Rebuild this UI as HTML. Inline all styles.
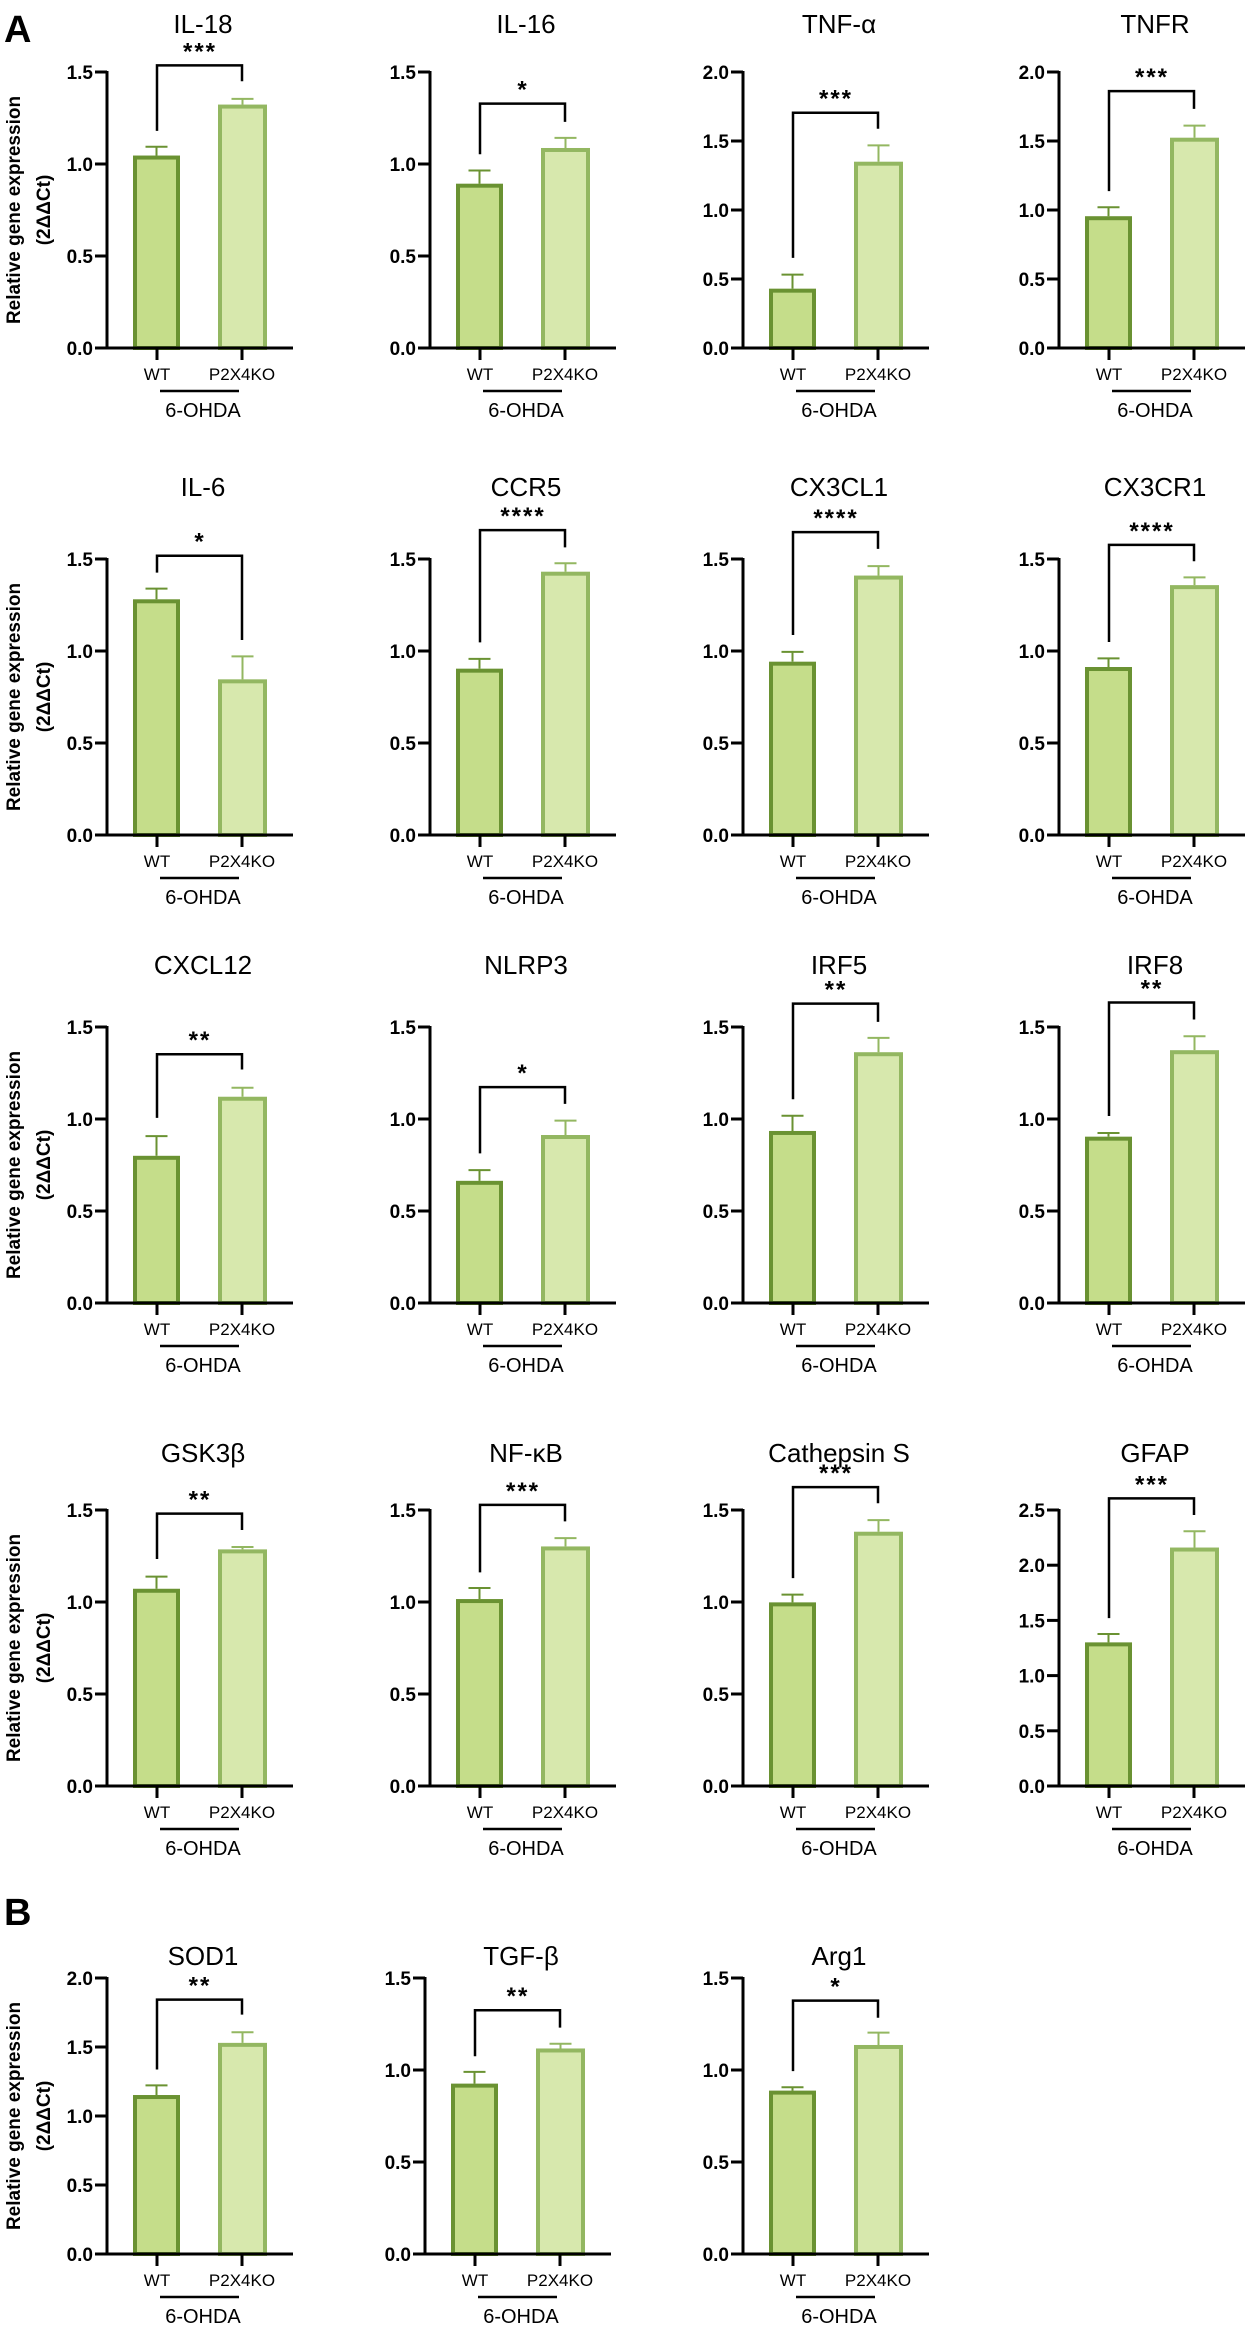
<!DOCTYPE html>
<html><head><meta charset="utf-8">
<style>
html,body{margin:0;padding:0;background:#fff;}
svg{display:block;font-family:"Liberation Sans",Arial,sans-serif;}
</style></head>
<body>
<svg id="fig" width="1248" height="2327" viewBox="0 0 1248 2327" xmlns="http://www.w3.org/2000/svg">
<text x="4" y="42" font-size="38" font-weight="bold">A</text>
<text x="4" y="1925" font-size="38" font-weight="bold">B</text>
</svg>
<script>
// Chart data
const genes = ["IL-18","IL-16","TNF-α","TNFR","IL-6","CCR5","CX3CL1","CX3CR1","CXCL12","NLRP3","IRF5","IRF8","GSK3β","NF-κB","Cathepsin S","GFAP","SOD1","TGF-β","Arg1"];
const wtMean = [1.046,0.893,0.43,0.955,1.281,0.904,0.942,0.913,0.80,0.664,0.935,0.904,1.072,1.016,0.998,1.301,1.152,0.926,0.888];
const wtErr  = [1.094,0.965,0.532,1.02,1.339,0.957,0.995,0.96,0.907,0.722,1.018,0.924,1.138,1.076,1.04,1.377,1.222,0.99,0.906];
const koMean = [1.323,1.087,1.35,1.524,0.846,1.431,1.41,1.358,1.121,0.913,1.363,1.374,1.286,1.302,1.382,2.16,1.53,1.117,1.136];
const koErr  = [1.354,1.142,1.468,1.611,0.971,1.477,1.461,1.4,1.17,0.991,1.441,1.45,1.299,1.347,1.445,2.307,1.607,1.143,1.203];
const yMax   = [1.5,1.5,2.0,2.0,1.5,1.5,1.5,1.5,1.5,1.5,1.5,1.5,1.5,1.5,1.5,2.5,2.0,1.5,1.5];
const sigText= ["***","*","***","***","*","****","****","****","**","*","**","**","**","***","***","***","**","**","*"];
const brTop  = [1.536,1.328,1.705,1.861,1.518,1.657,1.646,1.577,1.352,1.173,1.627,1.633,1.48,1.528,1.624,2.605,1.843,1.325,1.377];
const brLeft = [1.18,1.053,0.653,1.137,1.426,1.047,1.087,1.049,1.006,0.813,1.107,1.016,1.234,1.161,1.13,1.521,1.337,1.075,0.994];
const brRight= [1.45,1.229,1.589,1.733,1.06,1.563,1.555,1.488,1.269,1.082,1.528,1.541,1.391,1.438,1.537,2.455,1.735,1.23,1.284];

const NS="http://www.w3.org/2000/svg";
const svg=document.getElementById('fig');
const rowTop=[72,559,1027,1510,1978];
const rowTitle=[24,487,965,1453,1956];
const H=276;
const colX=[[107,430,743,1059],[107,430,743,1059],[107,430,743,1059],[107,430,743,1059],[107,425,743]];
const DARK="#6a9232", DFILL="#c5dd8a", LIGHT="#93b761", LFILL="#d7e8ad";
function el(tag,attrs,parent){const e=document.createElementNS(NS,tag);for(const k in attrs)e.setAttribute(k,attrs[k]);(parent||svg).appendChild(e);return e;}

let gi=0;
for(let r=0;r<5;r++){
  for(let c=0;c<colX[r].length;c++,gi++){
    const i=gi, ax=colX[r][c], top=rowTop[r], zero=top+H;
    const y=v=>zero-v/yMax[i]*H;
    const g=el('g',{});
    
    
    const t=el('text',{x:ax+96,y:rowTitle[r]+9,'font-size':26,'text-anchor':'middle'},g);
    t.textContent=genes[i];
    
    
    // ticks
    for(let v=0;v<=yMax[i]+1e-9;v+=0.5){
      const ty=y(v);
      const tk=el('line',{x1:ax-12,x2:ax,y1:ty,y2:ty,stroke:'#000','stroke-width':3},g);
      
      
      const tl=el('text',{x:ax-14,y:ty+7,'font-size':19,'font-weight':'bold','text-anchor':'end'},g);
      tl.textContent=v.toFixed(1);
      
      
    }
    // bars
    const bars=[[26,73,wtMean[i],wtErr[i],DARK,DFILL,'bar-wt'],[111,160,koMean[i],koErr[i],LIGHT,LFILL,'bar-p2x4ko']];
    bars.forEach(b=>{
      const x0=ax+b[0]+2,x1=ax+b[1]-2,yt=y(b[2]);
      const rc=el('rect',{x:x0,y:yt+2,width:x1-x0,height:zero-yt-2,fill:b[5],stroke:b[4],'stroke-width':4},g);
      
      
      const cx=(ax+b[0]+ax+b[1])/2, ye=y(b[3]);
      const eb=el('path',{d:`M${cx},${yt} V${ye} M${cx-11},${ye} H${cx+11}`,stroke:b[4],'stroke-width':2,fill:'none'},g);
      
      
    });
    // axes
    const ya=el('line',{x1:ax,x2:ax,y1:top-1,y2:zero+1.5,stroke:'#000','stroke-width':3},g);
    
    
    const xa=el('line',{x1:ax-1.5,x2:ax+186,y1:zero,y2:zero,stroke:'#000','stroke-width':3},g);
    
    
    [[50,'WT'],[135,'P2X4KO']].forEach(l=>{
      const xt=el('line',{x1:ax+l[0],x2:ax+l[0],y1:zero,y2:zero+12,stroke:'#000','stroke-width':3},g);
      
      
      const xl=el('text',{x:ax+l[0],y:zero+32,'font-size':17,'text-anchor':'middle'},g);
      xl.textContent=l[1];
      
      
    });
    const gl=el('line',{x1:ax+53,x2:ax+132,y1:zero+43,y2:zero+43,stroke:'#000','stroke-width':2.5},g);
    
    
    const gt=el('text',{x:ax+96,y:zero+69,'font-size':20,'text-anchor':'middle'},g);
    gt.textContent='6-OHDA';
    
    
    // significance bracket
    const by=y(brTop[i]);
    const br=el('path',{d:`M${ax+50},${y(brLeft[i])} V${by} H${ax+135} V${y(brRight[i])}`,stroke:'#000','stroke-width':2.5,fill:'none'},g);
    
    
    const st=el('text',{x:ax+93,y:by-6,'font-size':24,'font-weight':'bold','text-anchor':'middle','letter-spacing':'2'},g);
    st.textContent=sigText[i];
    
    
  }
  // y axis title
  const cy=rowTop[r]+H/2;
  const yt=el('text',{transform:`translate(20,${cy}) rotate(-90)`,'font-size':19,'font-weight':'bold','text-anchor':'middle'});
  yt.textContent='Relative gene expression';
  
  
  const yt2=el('text',{transform:`translate(50,${cy}) rotate(-90)`,'font-size':19,'font-weight':'bold','text-anchor':'middle'});
  yt2.textContent='(2ΔΔCt)';
  
  
}
</script>
</body></html>
